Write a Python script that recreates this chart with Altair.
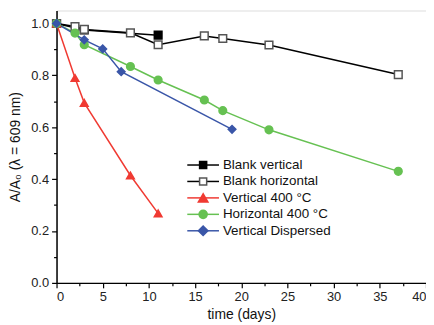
import altair as alt
import pandas as pd

series_names = ["Blank vertical", "Blank horizontal", "Vertical 400 °C",
                "Horizontal 400 °C", "Vertical Dispersed"]

bv_x = [0, 3, 11]
bv_y = [1.0, 0.975, 0.955]
bh_x = [0, 2, 3, 8, 11, 16, 18, 23, 37]
bh_y = [1.0, 0.988, 0.977, 0.964, 0.918, 0.952, 0.942, 0.917, 0.803]
v400_x = [0, 2, 3, 8, 11]
v400_y = [1.0, 0.79, 0.694, 0.414, 0.268]
h400_x = [0, 2, 3, 8, 11, 16, 18, 23, 37]
h400_y = [1.0, 0.963, 0.918, 0.834, 0.782, 0.705, 0.664, 0.590, 0.430]
vd_x = [0, 3, 5, 7, 19]
vd_y = [1.0, 0.937, 0.902, 0.814, 0.592]

colors = ["#000000", "#000000", "#f03a32", "#66c152", "#3a56a8"]
fills = ["#000000", "#ffffff", "#f03a32", "#66c152", "#3a56a8"]
strokes = ["#000000", "#555555", "#f03a32", "#66c152", "#3a56a8"]
shapes = ["square", "square", "triangle-up", "circle", "diamond"]
sizes = [60, 60, 110, 80, 110]

x_major = [0, 5, 10, 15, 20, 25, 30, 35, 40]
x_minor = [2.5, 7.5, 12.5, 17.5, 22.5, 27.5, 32.5, 37.5]
y_major = [0.0, 0.2, 0.4, 0.6, 0.8, 1.0]
y_minor = [0.1, 0.3, 0.5, 0.7, 0.9]

xs = [bv_x, bh_x, v400_x, h400_x, vd_x]
ys = [bv_y, bh_y, v400_y, h400_y, vd_y]

rows = []
for i, (n, xv, yv) in enumerate(zip(series_names, xs, ys)):
    for a, b in zip(xv, yv):
        rows.append({"series": n, "order": i, "t": a, "r": b})
df = pd.DataFrame(rows)

FONT = "Liberation Sans"
xscale = alt.Scale(domain=[0, 40], nice=False, zero=False)
yscale = alt.Scale(domain=[0, 1.05], nice=False, zero=False)
cscale = alt.Scale(domain=series_names, range=colors)
fscale = alt.Scale(domain=series_names, range=fills)
sscale = alt.Scale(domain=series_names, range=strokes)
shscale = alt.Scale(domain=series_names, range=shapes)
szscale = alt.Scale(domain=series_names, range=sizes)

axis_common = dict(domainColor="#000000", domainWidth=1.5, tickColor="#000000",
                   tickWidth=1.2, labelFont=FONT, labelFontSize=13, labelColor="#222222",
                   titleFont=FONT, titleFontSize=14, titleFontWeight="normal",
                   titleColor="#111111", grid=False)

x_major_axis = alt.Axis(values=x_major, tickSize=5, format="d", labelPadding=3,
                        title="time (days)", titlePadding=4, orient="bottom", **axis_common)
y_major_axis = alt.Axis(values=y_major, tickSize=5, format=".1f", labelPadding=3,
                        title="A/A₀ (λ = 609 nm)", titlePadding=8, orient="left", **axis_common)
x_minor_axis = alt.Axis(values=x_minor, tickSize=3, labels=False, domain=False, title="",
                        orient="bottom", tickColor="#000000", tickWidth=1.2, grid=False)
y_minor_axis = alt.Axis(values=y_minor, tickSize=3, labels=False, domain=False, title="",
                        orient="left", tickColor="#000000", tickWidth=1.2, grid=False)

base = alt.Chart(df)

lines = base.mark_line(strokeWidth=1.5).encode(
    x=alt.X("t:Q", scale=xscale, axis=x_major_axis),
    y=alt.Y("r:Q", scale=yscale, axis=y_major_axis),
    color=alt.Color("series:N", scale=cscale, legend=None),
    detail="series:N",
    order="t:Q",
)

points = base.mark_point(filled=True, opacity=1, strokeWidth=1.5).encode(
    x=alt.X("t:Q", scale=xscale, axis=x_minor_axis),
    y=alt.Y("r:Q", scale=yscale, axis=y_minor_axis),
    shape=alt.Shape("series:N", scale=shscale, legend=None),
    fill=alt.Fill("series:N", scale=fscale, legend=None),
    stroke=alt.Stroke("series:N", scale=sscale, legend=None),
    size=alt.Size("series:N", scale=szscale, legend=None),
)

# legend (line + marker + label), placed inside the plot area
leg_layers = []
y0, dy = 156, 16.6
for i, n in enumerate(series_names):
    d = alt.Data(values=[{"name": n}])
    yy = y0 + dy * i
    leg_layers.append(alt.Chart(d).mark_rule(color=colors[i], strokeWidth=1.5).encode(
        x=alt.value(132), x2=alt.value(164), y=alt.value(yy)))
    leg_layers.append(alt.Chart(d).mark_point(
        shape=shapes[i], fill=fills[i], stroke=strokes[i], filled=True, opacity=1,
        strokeWidth=1.5, size=sizes[i] * 0.85).encode(x=alt.value(148), y=alt.value(yy)))
    leg_layers.append(alt.Chart(d).mark_text(
        align="left", baseline="middle", font=FONT, fontSize=13.5, color="#111111").encode(
        x=alt.value(168), y=alt.value(yy), text="name:N"))

chart = alt.layer(lines, points, *leg_layers).resolve_axis(
    x="independent", y="independent"
).properties(
    width=373, height=275,
    autosize=alt.AutoSizeParams(type="none"),
    padding={"left": 49, "top": 1, "right": 0, "bottom": 41},
).configure_view(stroke=None).configure(background="#ffffff")

chart.save("out.html", embed_options={"renderer": "svg", "actions": False})
